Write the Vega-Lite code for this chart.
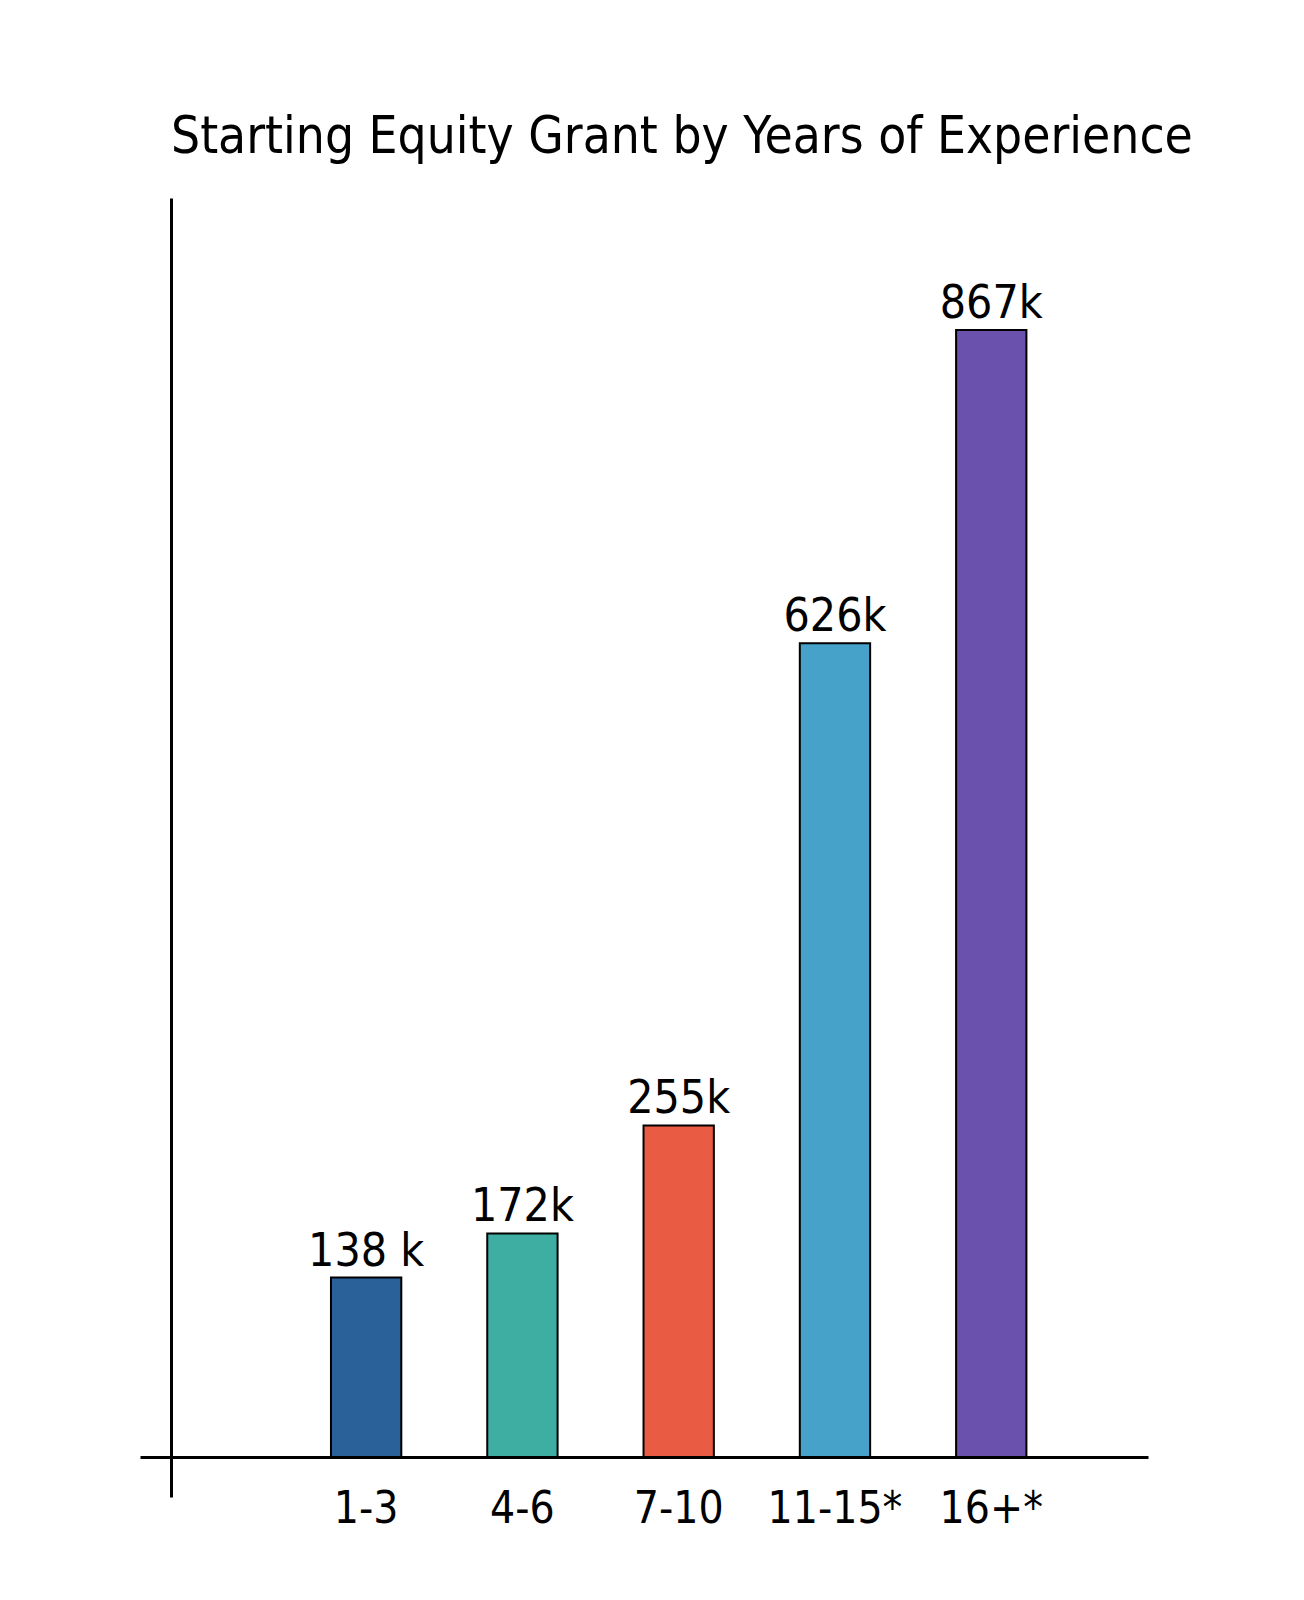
{
  "$schema": "https://vega.github.io/schema/vega-lite/v6.json",
  "description": "Starting equity grant by years of experience, hand-drawn style bar chart.",
  "background": "white",
  "autosize": "none",
  "padding": {"left": 140, "top": 198, "right": 156, "bottom": 103},
  "width": 1008,
  "height": 1299,
  "title": {
    "text": "Starting Equity Grant by Years of Experience",
    "anchor": "start",
    "frame": "group",
    "dx": 31,
    "dy": 51,
    "offset": 45,
    "baseline": "alphabetic",
    "font": "Liberation Sans Narrow, DejaVu Sans Condensed, Roboto Condensed, Roboto",
    "fontSize": 51,
    "fontWeight": "normal",
    "color": "black"
  },
  "data": {
    "values": [
      {"years": "1-3", "equity": 138000, "label": "138 k"},
      {"years": "4-6", "equity": 172000, "label": "172k"},
      {"years": "7-10", "equity": 255000, "label": "255k"},
      {"years": "11-15*", "equity": 626000, "label": "626k"},
      {"years": "16+*", "equity": 867000, "label": "867k"}
    ]
  },
  "encoding": {
    "x": {
      "field": "years",
      "type": "nominal",
      "sort": null,
      "scale": {"paddingInner": 0.55, "paddingOuter": 1.016, "align": 0.611},
      "axis": {
        "title": null,
        "orient": "bottom",
        "offset": -40,
        "ticks": false,
        "domainColor": "black",
        "domainWidth": 3,
        "labelAngle": 0,
        "labelPadding": 30,
        "labelFont": "Liberation Sans Narrow, DejaVu Sans Condensed, Roboto Condensed, Roboto",
        "labelFontSize": 44,
        "labelColor": "black"
      }
    },
    "y": {
      "field": "equity",
      "type": "quantitative",
      "scale": {"domain": [-30770, 968460], "nice": false, "zero": false},
      "axis": {
        "title": null,
        "orient": "left",
        "offset": -31,
        "labels": false,
        "ticks": false,
        "grid": false,
        "domainColor": "black",
        "domainWidth": 3
      }
    }
  },
  "layer": [
    {
      "mark": {"type": "bar", "stroke": "black", "strokeWidth": 2},
      "encoding": {
        "y2": {"datum": 0},
        "color": {
          "field": "years",
          "type": "nominal",
          "legend": null,
          "scale": {
            "domain": ["1-3", "4-6", "7-10", "11-15*", "16+*"],
            "range": ["#2a6199", "#3eaea3", "#e95b43", "#46a2c8", "#6a51ad"]
          }
        }
      }
    },
    {
      "mark": {
        "type": "text",
        "baseline": "alphabetic",
        "dy": -12,
        "font": "Liberation Sans Narrow, DejaVu Sans Condensed, Roboto Condensed, Roboto",
        "fontSize": 46,
        "color": "black"
      },
      "encoding": {
        "text": {"field": "label"}
      }
    }
  ],
  "config": {
    "view": {"stroke": null}
  }
}
